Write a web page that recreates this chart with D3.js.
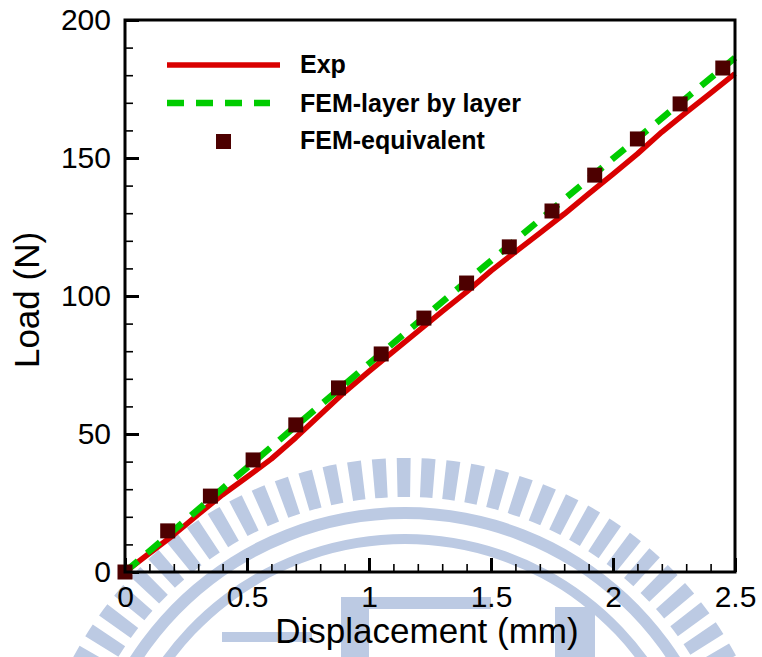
<!DOCTYPE html>
<html>
<head>
<meta charset="utf-8">
<script src="https://cdn.jsdelivr.net/npm/d3@7"></script>
<style>
  html, body { margin: 0; padding: 0; background: #fff; }
  svg { display: block; }
  text { font-family: "Liberation Sans", Arial, sans-serif; fill: #000; }
</style>
</head>
<body>
<svg id="chart" width="762" height="657"></svg>
<script>
// Experimental load-displacement curve (mm, N)
const expDisp = [0, 0.1, 0.2, 0.3, 0.4, 0.5, 0.6, 0.7, 0.8, 0.9, 1.0, 1.1, 1.2, 1.3,
                 1.4, 1.5, 1.6, 1.7, 1.8, 1.9, 2.0, 2.1, 2.2, 2.3, 2.4, 2.5];
const expLoad = [0, 6.8, 13.5, 20.9, 28.0, 34.4, 41.0, 48.7, 57.0, 65.2, 72.7, 79.9, 87.2, 94.4,
                 101.5, 109.1, 116.0, 122.8, 129.7, 137.0, 144.2, 151.5, 159.4, 166.5, 173.5, 180.6];

// FEM, layer-by-layer model
const layerDisp = [0, 0.5, 1.0, 1.5, 2.0, 2.5];
const layerLoad = [0, 37.8, 75.5, 112.8, 149.8, 186.3];

// FEM, equivalent model
const eqDisp = [0, 0.175, 0.35, 0.525, 0.7, 0.875, 1.05, 1.225, 1.4, 1.575, 1.75, 1.925, 2.1, 2.275, 2.45];
const eqLoad = [0, 14.9, 27.5, 40.6, 53.3, 66.7, 79.0, 92.0, 104.7, 117.8, 130.8, 143.8, 156.9, 169.6, 182.6];

// Axis ticks
const xMajor = [0, 0.5, 1, 1.5, 2, 2.5];
const xTickLabels = ["0", "0.5", "1", "1.5", "2", "2.5"];
const yMajor = [0, 50, 100, 150, 200];
const yTickLabels = ["0", "50", "100", "150", "200"];

const legendLabels = ["Exp", "FEM-layer by layer", "FEM-equivalent"];

const svg = d3.select("#chart");
const plot = { left: 125, right: 735, top: 20, bottom: 572 };

const x = d3.scaleLinear().domain([0, 2.5]).range([plot.left, plot.right]);
const y = d3.scaleLinear().domain([0, 200]).range([plot.bottom, plot.top]);

// ---- background emblem (pale) ----
const emb = svg.append("g").attr("fill", "#bccae3").attr("stroke", "none");
const ec = { x: 405, y: 834 };
const barsInner = 337, barsOuter = 376;
const arc = d3.arc();
for (let a = -80; a <= 80; a += 3.8) {
  const r0 = a * Math.PI / 180;
  emb.append("path")
    .attr("transform", `translate(${ec.x},${ec.y})`)
    .attr("d", arc({innerRadius: barsInner, outerRadius: barsOuter,
                    startAngle: r0 - 0.0185, endAngle: r0 + 0.0185}));
}
emb.append("path")
  .attr("transform", `translate(${ec.x},${ec.y})`)
  .attr("d", arc({innerRadius: 315, outerRadius: 327, startAngle: -1.5, endAngle: 1.5}));
emb.append("path")
  .attr("transform", `translate(${ec.x},${ec.y})`)
  .attr("d", arc({innerRadius: 290, outerRadius: 300, startAngle: -1.3, endAngle: 1.3}));
emb.append("rect").attr("x", 341).attr("y", 597).attr("width", 28).attr("height", 60);
emb.append("rect").attr("x", 341).attr("y", 597).attr("width", 150).attr("height", 12);
emb.append("rect").attr("x", 222).attr("y", 632).attr("width", 90).attr("height", 10);
emb.append("rect").attr("x", 555).attr("y", 607).attr("width", 40).attr("height", 50);

// ---- minor ticks ----
const xMinor = d3.range(0, 2.5001, 0.1).filter(v => Math.abs(v * 2 - Math.round(v * 2)) > 1e-6);
const yMinor = d3.range(0, 200.001, 10).filter(v => v % 50 !== 0);

svg.append("g")
  .attr("transform", `translate(0,${plot.bottom})`)
  .call(d3.axisBottom(x).tickValues(xMinor).tickSize(-8).tickFormat(""))
  .call(g => g.select(".domain").remove())
  .call(g => g.selectAll("line").attr("stroke", "#000").attr("stroke-width", 1.6));

svg.append("g")
  .attr("transform", `translate(${plot.left},0)`)
  .call(d3.axisLeft(y).tickValues(yMinor).tickSize(-8).tickFormat(""))
  .call(g => g.select(".domain").remove())
  .call(g => g.selectAll("line").attr("stroke", "#000").attr("stroke-width", 1.6));

// ---- major ticks with labels ----
svg.append("g")
  .attr("transform", `translate(0,${plot.bottom})`)
  .call(d3.axisBottom(x).tickValues(xMajor).tickSize(-14).tickPadding(14)
        .tickFormat((d, i) => xTickLabels[i]))
  .call(g => g.select(".domain").remove())
  .call(g => g.selectAll("line").attr("stroke", "#000").attr("stroke-width", 3))
  .call(g => g.selectAll("text").attr("font-size", 30)
        .attr("font-family", "'Liberation Sans', Arial, sans-serif").attr("fill", "#000"));

svg.append("g")
  .attr("transform", `translate(${plot.left},0)`)
  .call(d3.axisLeft(y).tickValues(yMajor).tickSize(-14).tickPadding(14)
        .tickFormat((d, i) => yTickLabels[i]))
  .call(g => g.select(".domain").remove())
  .call(g => g.selectAll("line").attr("stroke", "#000").attr("stroke-width", 3))
  .call(g => g.selectAll("text").attr("font-size", 30)
        .attr("font-family", "'Liberation Sans', Arial, sans-serif").attr("fill", "#000"));

// ---- data ----
const line = d3.line().x(d => x(d[0])).y(d => y(d[1]));
const red = "#d90000", green = "#00cc00", maroon = "#4d0000";

svg.append("path")
  .datum(expDisp.map((d, i) => [d, expLoad[i]]))
  .attr("d", line)
  .attr("fill", "none").attr("stroke", red).attr("stroke-width", 5.5)
  .attr("stroke-linejoin", "round");

svg.append("path")
  .datum(layerDisp.map((d, i) => [d, layerLoad[i]]))
  .attr("d", line)
  .attr("fill", "none").attr("stroke", green).attr("stroke-width", 6.5)
  .attr("stroke-dasharray", "17,12");

const sq = 15;
svg.append("g").selectAll("rect")
  .data(eqDisp.map((d, i) => [d, eqLoad[i]]))
  .join("rect")
  .attr("x", d => x(d[0]) - sq / 2)
  .attr("y", d => y(d[1]) - sq / 2)
  .attr("width", sq).attr("height", sq)
  .attr("fill", maroon);

// ---- frame ----
svg.append("rect")
  .attr("x", plot.left).attr("y", plot.top)
  .attr("width", plot.right - plot.left).attr("height", plot.bottom - plot.top)
  .attr("fill", "none").attr("stroke", "#000").attr("stroke-width", 3);

// ---- axis titles ----
svg.append("text")
  .attr("x", (plot.left + plot.right) / 2 - 3).attr("y", 643)
  .attr("text-anchor", "middle").attr("font-size", 35)
  .text("Displacement (mm)");

svg.append("text")
  .attr("transform", `translate(39,${(plot.top + plot.bottom) / 2 + 4}) rotate(-90)`)
  .attr("text-anchor", "middle").attr("font-size", 35)
  .text("Load (N)");

// ---- legend ----
const lg = svg.append("g");
lg.append("line").attr("x1", 167).attr("x2", 280).attr("y1", 65).attr("y2", 65)
  .attr("stroke", red).attr("stroke-width", 5.5);
lg.append("line").attr("x1", 167).attr("x2", 270).attr("y1", 103).attr("y2", 103)
  .attr("stroke", green).attr("stroke-width", 6.5).attr("stroke-dasharray", "17,12");
lg.append("rect").attr("x", 216).attr("y", 134).attr("width", sq).attr("height", sq)
  .attr("fill", maroon);
const lgY = [73, 112, 149];
lg.selectAll("text.lab").data(legendLabels).join("text")
  .attr("class", "lab")
  .attr("x", 300).attr("y", (d, i) => lgY[i])
  .attr("font-size", 25).attr("font-weight", "bold")
  .text(d => d);
</script>
</body>
</html>
